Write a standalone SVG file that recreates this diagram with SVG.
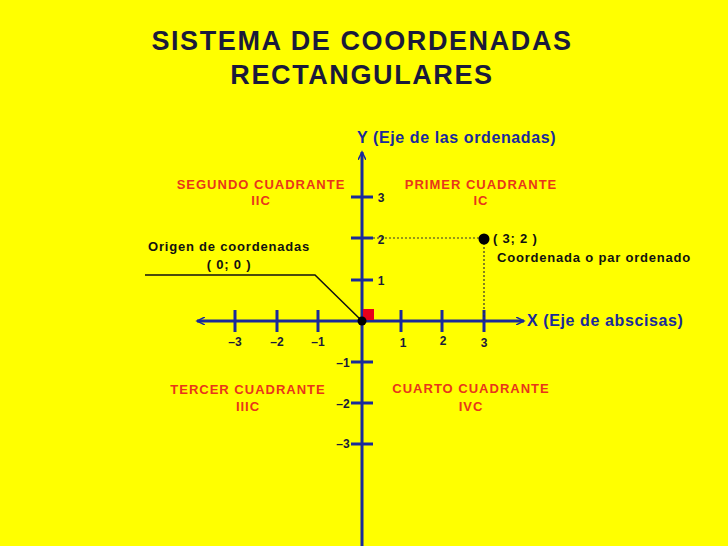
<svg xmlns="http://www.w3.org/2000/svg" width="728" height="546" viewBox="0 0 728 546">
<style>
text{font-family:"Liberation Sans",Arial,sans-serif;font-weight:bold}
.ax{stroke:#1a2a9a;stroke-width:3;fill:none}
.tk{stroke:#1a2a9a;stroke-width:3}
.n{font-size:12px;fill:#1a1a3a;text-anchor:middle}
.q{font-size:13px;fill:#e8361a;text-anchor:middle;letter-spacing:1px}
.b{font-size:13px;fill:#111;letter-spacing:0.8px}
.lab{font-size:16px;fill:#1a2a9a;letter-spacing:0.6px}
</style>
<defs><marker id="ah" markerWidth="10" markerHeight="8" refX="8" refY="4" orient="auto" markerUnits="userSpaceOnUse"><path d="M0,0 L8,4 L0,8" fill="none" stroke="#1a2a9a" stroke-width="1.5"/></marker></defs>
<rect width="728" height="546" fill="#ffff00"/>
<g id="title"><text x="362" y="50" font-size="27" letter-spacing="1.6" text-anchor="middle" fill="#1a1a3a">SISTEMA DE COORDENADAS</text><text x="362" y="84" font-size="27" letter-spacing="1.6" text-anchor="middle" fill="#1a1a3a">RECTANGULARES</text></g>
<g id="connectors">
<line class="ax" x1="362" y1="546" x2="362" y2="152" marker-end="url(#ah)"/>
<line class="ax" x1="362" y1="321" x2="197" y2="321" marker-end="url(#ah)"/>
<line class="ax" x1="362" y1="321" x2="524" y2="321" marker-end="url(#ah)"/>
<g class="tk"><line x1="235" y1="310" x2="235" y2="332"/><line x1="277" y1="310" x2="277" y2="332"/><line x1="318" y1="310" x2="318" y2="332"/><line x1="401" y1="310" x2="401" y2="332"/><line x1="442" y1="310" x2="442" y2="332"/><line x1="484" y1="310" x2="484" y2="332"/>
<line x1="351" y1="197" x2="373" y2="197"/><line x1="351" y1="238" x2="373" y2="238"/><line x1="351" y1="280" x2="373" y2="280"/><line x1="351" y1="362" x2="373" y2="362"/><line x1="351" y1="403" x2="373" y2="403"/><line x1="351" y1="444" x2="373" y2="444"/></g>
<path d="M373,238 H484 V321" fill="none" stroke="#333" stroke-width="1.2" stroke-dasharray="2,2"/>
<path d="M145,275 H315 L362,321" fill="none" stroke="#111" stroke-width="1.5"/>
</g>
<g id="labels">
<text class="n" x="235" y="346">–3</text><text class="n" x="277" y="346">–2</text><text class="n" x="318" y="346">–1</text><text class="n" x="403" y="347">1</text><text class="n" x="443" y="345">2</text><text class="n" x="484" y="347">3</text>
<text class="n" x="381" y="202">3</text><text class="n" x="381" y="244">2</text><text class="n" x="381" y="285">1</text><text class="n" x="343" y="367">–1</text><text class="n" x="343" y="408">–2</text><text class="n" x="343" y="448">–3</text>
<text class="lab" x="357" y="143">Y (Eje de las ordenadas)</text>
<text class="lab" x="527" y="326">X (Eje de abscisas)</text>
</g>
<g id="q1"><text class="q" x="481" y="189">PRIMER CUADRANTE</text><text class="q" x="481" y="205">IC</text></g>
<g id="q2"><text class="q" x="261" y="189">SEGUNDO CUADRANTE</text><text class="q" x="261" y="205">IIC</text></g>
<g id="q3"><text class="q" x="248" y="394">TERCER CUADRANTE</text><text class="q" x="248" y="411">IIIC</text></g>
<g id="q4"><text class="q" x="471" y="393">CUARTO CUADRANTE</text><text class="q" x="471" y="411">IVC</text></g>
<g id="point"><circle cx="484" cy="239" r="5.5" fill="#000"/><text class="b" x="493" y="243">( 3; 2 )</text><text class="b" x="497" y="262">Coordenada o par ordenado</text></g>
<g id="origin"><rect x="363" y="309" width="11" height="11" fill="#e8001a"/><circle cx="362" cy="321" r="4.5" fill="#000"/><text class="b" x="148" y="251">Origen de coordenadas</text><text class="b" x="229" y="269" text-anchor="middle">( 0; 0 )</text></g>
</svg>
